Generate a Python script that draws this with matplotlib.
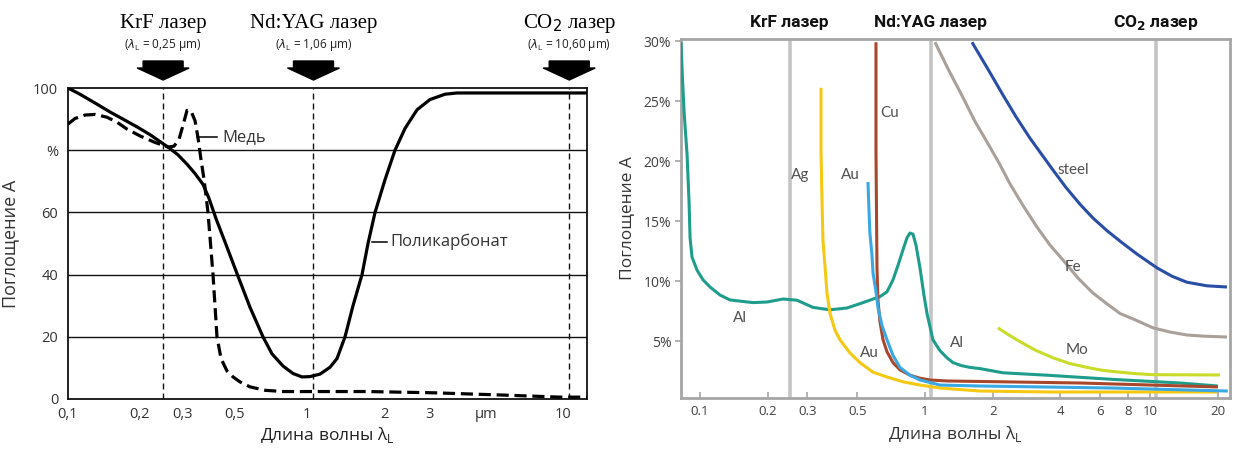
import numpy as np
import matplotlib
matplotlib.use("Agg")
import matplotlib.pyplot as plt
from matplotlib.patches import Polygon
from matplotlib.transforms import ScaledTranslation, blended_transform_factory
from matplotlib.ticker import FixedLocator, FixedFormatter, NullLocator

plt.rcParams["font.family"] = ["Open Sans", "DejaVu Sans"]

# ---------------- left panel: polycarbonate vs copper ----------------
pc_wl = [0.1, 0.1122, 0.1322, 0.1498, 0.1698, 0.1944, 0.2203, 0.2621, 0.2886,
         0.3147, 0.3399, 0.3672, 0.389, 0.4161, 0.4538, 0.5143, 0.5773, 0.6544,
         0.7139, 0.7937, 0.8737, 0.953, 1.027, 1.124, 1.23, 1.31, 1.408, 1.513,
         1.641, 1.732, 1.845, 2.018, 2.208, 2.417, 2.693, 3.027, 3.465, 3.86,
         12.44]
pc_abs = [100, 98, 94.8, 92.3, 90, 87.5, 85, 81, 78.5,
          75.5, 72.5, 69, 64.5, 58, 50.5, 39.5, 29.5, 20,
          14.5, 10.6, 8.2, 7.1, 7.2, 8.0, 10.2, 13, 20, 30,
          40, 50, 60, 70.5, 80, 87, 93, 96.3, 98, 98.4,
          98.4]

cu_wl = [0.1, 0.107, 0.1178, 0.1297, 0.1456, 0.1603, 0.1765, 0.2, 0.2312,
         0.2621, 0.2777, 0.2914, 0.3028, 0.3147, 0.3271, 0.3399, 0.3499,
         0.3601, 0.3707, 0.3852, 0.4043, 0.4201, 0.4368, 0.4627, 0.4903,
         0.5244, 0.5773, 0.6674, 0.7937, 1.0, 1.717, 3.11, 5.68, 9.76, 12.44]
cu_abs = [88.4, 90.2, 91.3, 91.5, 90.6, 89, 86.8, 84.6, 82.5,
          81, 81.3, 83.5, 88, 92.8, 92.6, 89.5, 84,
          77, 70.7, 60, 40, 20, 13, 9, 7.1,
          5.5, 3.9, 2.8, 2.4, 2.4, 2.4, 2.0, 1.3, 0.6, 0.6]

laser_wl = [0.25, 1.06, 10.6]
laser_titles_left = ["KrF лазер", "Nd:YAG лазер", "CO$_2$ лазер"]
laser_notes_left = [r"($\lambda_\mathregular{L}$ = 0,25 μm)",
                    r"($\lambda_\mathregular{L}$ = 1,06 μm)",
                    r"($\lambda_\mathregular{L}$ = 10,60 μm)"]
laser_titles_right = ["KrF лазер", "Nd:YAG лазер", "CO$_\\mathbf{2}$ лазер"]

left_xticks = [0.1, 0.2, 0.3, 0.5, 1, 2, 3, 5, 10]
left_xlabels = ["0,1", "0,2", "0,3", "0,5", "1", "2", "3", "μm", "10"]
left_yticks = [0, 20, 40, 60, 80, 100]
left_ylabels = ["0", "20", "40", "60", "%", "100"]

# ---------------- right panel: metals ----------------
al_wl = [0.0823, 0.0835, 0.085, 0.0876, 0.0894, 0.0903, 0.0921, 0.097, 0.1031,
         0.1108, 0.1227, 0.1359, 0.172, 0.1985, 0.2339, 0.2699, 0.3178, 0.3783,
         0.45, 0.5302, 0.631, 0.678, 0.7209, 0.7586, 0.7984, 0.8318, 0.858,
         0.8845, 0.912, 0.95, 0.99, 1.021, 1.085, 1.166, 1.252, 1.332, 1.45,
         1.585, 1.756, 2.222, 3.485, 6.846, 13.6, 20.05]
al_abs = [29.9, 27.0, 24.0, 20.5, 16.5, 13.6, 12.0, 10.9, 10.1,
          9.5, 8.83, 8.42, 8.2, 8.25, 8.5, 8.4, 7.8, 7.6,
          7.75, 8.2, 8.7, 9.1, 10.1, 11.3, 12.6, 13.6, 14.0,
          13.9, 13.0, 11.1, 8.8, 7.3, 5.1, 4.2, 3.6, 3.2, 2.95,
          2.8, 2.7, 2.35, 2.15, 1.8, 1.5, 1.25]

ag_wl = [0.345, 0.345, 0.3484, 0.352, 0.3594, 0.3668, 0.3783, 0.398, 0.419,
         0.464, 0.514, 0.5873, 0.678, 0.7984, 0.95, 1.166, 1.756, 3.594, 20.05]
ag_abs = [26.1, 20.9, 16.75, 13.4, 11.2, 9.0, 7.3, 5.9, 5.1,
          4.0, 3.2, 2.4, 2.0, 1.6, 1.33, 1.08, 0.83, 0.75, 0.75]

cu2_wl = [0.6056, 0.6056, 0.6118, 0.618, 0.631, 0.651, 0.678, 0.7209, 0.774,
          0.858, 0.95, 1.052, 1.252, 4.887, 20.05]
cu2_abs = [29.9, 20.9, 11.2, 8.4, 6.6, 5.1, 4.1, 3.2, 2.6,
           2.15, 1.9, 1.75, 1.67, 1.5, 1.17]

au_wl = [0.558, 0.5637, 0.569, 0.5812, 0.5873, 0.6056, 0.618, 0.644, 0.678,
         0.7209, 0.774, 0.858, 0.95, 1.166, 1.756, 6.846, 22.2]
au_abs = [18.25, 15.9, 14.0, 12.2, 10.7, 9.1, 7.8, 6.3, 5.1,
          3.8, 2.8, 2.15, 1.75, 1.33, 1.25, 1.08, 0.83]

fe_wl = [1.108, 1.265, 1.475, 1.668, 1.886, 2.154, 2.387, 2.727, 3.146, 3.594,
         4.106, 4.786, 5.58, 6.44, 7.357, 8.755, 10.31, 12.27, 14.6, 17.55, 22.0]
fe_abs = [29.9, 27.7, 25.3, 23.3, 21.6, 19.7, 18.1, 16.3, 14.5, 13.0,
          11.75, 10.25, 9.0, 8.1, 7.3, 6.7, 6.1, 5.75, 5.5, 5.4, 5.33]

steel_wl = [1.618, 1.886, 2.222, 2.537, 2.93, 3.707, 4.233, 4.887, 5.58, 6.44,
            7.508, 8.755, 10.74, 12.53, 14.6, 17.92, 22.0]
steel_abs = [29.9, 27.8, 25.5, 23.7, 21.9, 19.25, 17.8, 16.4, 15.25, 14.2,
             13.2, 12.25, 11.1, 10.4, 9.9, 9.6, 9.5]

mo_wl = [2.11, 2.338, 2.644, 3.083, 3.707, 4.41, 5.248, 6.18, 7.357, 8.755,
         10.31, 20.47]
mo_abs = [6.1, 5.55, 4.95, 4.25, 3.6, 3.12, 2.8, 2.55, 2.4, 2.27,
          2.19, 2.17]

right_xticks = [0.1, 0.2, 0.3, 0.5, 1, 2, 4, 6, 8, 10, 20]
right_xlabels = ["0.1", "0.2", "0.3", "0.5", "1", "2", "4", "6", "8", "10", "20"]
right_yticks = [5, 10, 15, 20, 25, 30]
right_ylabels = ["5%", "10%", "15%", "20%", "25%", "30%"]

W, H = 1235, 449
fig = plt.figure(figsize=(W / 100, H / 100), dpi=100)
fig.patch.set_facecolor("white")

# ---------- left axes ----------
axL = fig.add_axes([68 / W, 1 - 399 / H, (587 - 68) / W, (399 - 88) / H])

K_UP = 1.07  # the printed axis stretches the decades above 1 µm


def fwd(x):
    lx = np.log10(np.clip(np.asarray(x, float), 1e-12, None))
    return np.where(lx > 0, lx * K_UP, lx)


def inv(y):
    y = np.asarray(y, float)
    return np.where(y > 0, 10 ** (y / K_UP), 10 ** y)


axL.set_xscale("function", functions=(fwd, inv))
axL.set_xlim(0.1, 12.44)
axL.set_ylim(0, 100)

for y in [20, 40, 60, 80]:
    axL.axhline(y, color="#111111", lw=1.0, zorder=1)
for x in laser_wl:
    axL.axvline(x, color="#111111", lw=1.0, ls=(0, (4.3, 2.9)), zorder=1)

axL.plot(pc_wl, pc_abs, color="black", lw=2.3, zorder=3,
         solid_joinstyle="round", solid_capstyle="round")
axL.plot(cu_wl, cu_abs, color="black", lw=2.3, ls=(0, (3.8, 1.8)), zorder=3,
         dash_joinstyle="round")

for s in axL.spines.values():
    s.set_color("#111111")
    s.set_linewidth(1.3)

axL.xaxis.set_major_locator(FixedLocator(left_xticks))
axL.xaxis.set_major_formatter(FixedFormatter(left_xlabels))
axL.xaxis.set_minor_locator(NullLocator())
axL.yaxis.set_major_locator(FixedLocator(left_yticks))
axL.yaxis.set_major_formatter(FixedFormatter(left_ylabels))
axL.tick_params(length=0, labelsize=10.5, labelcolor="#333333", pad=7)
axL.tick_params(axis="x", pad=6)
axL.set_ylabel("Поглощение А", fontsize=13, color="#333333", labelpad=10)
axL.set_xlabel(r"Длина волны λ$_\mathregular{L}$", fontsize=12.5,
               color="#222222", labelpad=2)

# curve labels with leader lines
axL.plot([0.3465, 0.4201], [84.2, 84.2], color="black", lw=1.1, zorder=4)
axL.text(0.441, 84.2, "Медь", fontsize=12, color="#333333", va="center")
axL.plot([1.796, 2.055], [50.5, 50.5], color="black", lw=1.1, zorder=4)
axL.text(2.112, 50.5, "Поликарбонат", fontsize=12, color="#333333", va="center")

# laser markers above the left axes
btL = blended_transform_factory(axL.transData, axL.transAxes)
arrow = np.array([(0, 0), (-0.26, 0.12), (-0.20, 0.12), (-0.20, 0.19),
                  (0.20, 0.19), (0.20, 0.12), (0.26, 0.12)])
for x, t, n in zip(laser_wl, laser_titles_left, laser_notes_left):
    tr = fig.dpi_scale_trans + ScaledTranslation(x, 1.0257, btL)
    fig.patches.append(Polygon(arrow, closed=True, facecolor="black",
                               edgecolor="black", transform=tr))
    axL.text(x, 1.209, t, transform=btL, ha="center", va="center",
             fontsize=15, family="Liberation Serif", color="black")
    axL.text(x, 1.138, n, transform=btL, ha="center", va="center",
             fontsize=8.5, color="#222222")

# ---------- right axes ----------
axR = fig.add_axes([681 / W, 1 - 398 / H, (1230 - 681) / W, (398 - 39) / H])
axR.set_xscale("log")
axR.set_xlim(0.0823, 22.7)
axR.set_ylim(0.25, 30.17)

for x in laser_wl:
    axR.axvline(x, color="#c4c4c4", lw=2.6, zorder=1)

lw = 2.2
style = dict(lw=lw, solid_joinstyle="round", solid_capstyle="butt")
axR.plot(al_wl, al_abs, color="#1e9d8c", zorder=3, **style)
axR.plot(ag_wl, ag_abs, color="#f5c814", zorder=3, **style)
axR.plot(cu2_wl, cu2_abs, color="#a8472c", zorder=3, **style)
axR.plot(au_wl, au_abs, color="#3aa8e2", zorder=4, **style)
axR.plot(fe_wl, fe_abs, color="#a9a099", zorder=3, **style)
axR.plot(steel_wl, steel_abs, color="#2a4ea6", zorder=3, **style)
axR.plot(mo_wl, mo_abs, color="#c9dc2a", zorder=3, **style)

for s in axR.spines.values():
    s.set_color("#a6a6a6")
    s.set_linewidth(2.0)

axR.xaxis.set_major_locator(FixedLocator(right_xticks))
axR.xaxis.set_major_formatter(FixedFormatter(right_xlabels))
axR.xaxis.set_minor_locator(NullLocator())
axR.yaxis.set_major_locator(FixedLocator(right_yticks))
axR.yaxis.set_major_formatter(FixedFormatter(right_ylabels))
axR.tick_params(axis="x", direction="in", length=4, width=1.2, color="#a6a6a6",
                labelsize=9.5, labelcolor="#404040", pad=5)
axR.tick_params(axis="y", direction="out", length=4, width=1.2, color="#a6a6a6",
                labelsize=10, labelcolor="#404040", pad=3)
axR.set_ylabel("Поглощение А", fontsize=12.5, color="#333333", labelpad=6)
axR.set_xlabel(r"Длина волны λ$_\mathregular{L}$", fontsize=12.5,
               color="#333333", labelpad=4)

lab = dict(fontsize=11, color="#505050", ha="center", va="center",
           family=["Lato", "Open Sans"])
axR.text(0.699, 24.0, "Cu", **lab)
axR.text(0.278, 18.8, "Ag", **lab)
axR.text(0.464, 18.8, "Au", **lab)
axR.text(0.569, 4.0, "Au", **lab)
axR.text(0.1506, 6.9, "Al", **lab)
axR.text(1.388, 4.8, "Al", **lab)
axR.text(4.55, 19.25, "steel", **lab)
axR.text(4.55, 11.2, "Fe", **lab)
axR.text(4.74, 4.25, "Mo", **lab)

btR = blended_transform_factory(axR.transData, axR.transAxes)
for x, t in zip(laser_wl, laser_titles_right):
    axR.text(x, 1.0446, t, transform=btR, ha="center", va="center",
             fontsize=12.5, fontweight="bold", family="Roboto", color="#111111")

fig.savefig("out.png", dpi=100, facecolor="white")
